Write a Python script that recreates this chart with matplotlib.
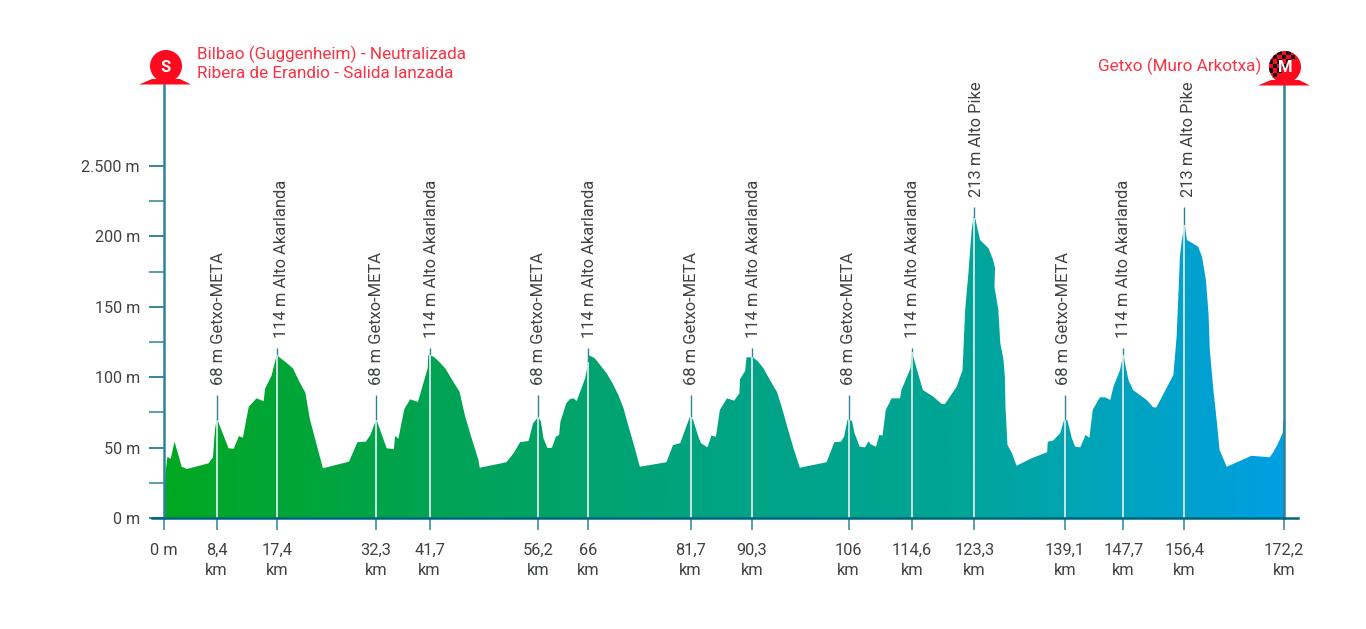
import numpy as np
import matplotlib
matplotlib.use('Agg')
import matplotlib.pyplot as plt
from matplotlib.colors import LinearSegmentedColormap
from matplotlib.patches import Circle, Polygon, Rectangle
from matplotlib.transforms import Affine2D

plt.rcParams['font.family'] = ['Roboto', 'DejaVu Sans']

# Profile outline, km and metres (same line breaks in both lists)
profile_km = [0, 0.2, 0.3, 0.6, 1.1, 1.7, 2.8, 3.6, 6.9, 7.6, 7.9, 8.2, 10.0, 10.8, 11.6, 12.2, 13.1, 14.3, 15.4,
              15.6, 16.6, 17.4, 18.7, 19.9, 21.0, 21.8, 22.5, 24.5, 28.5,
              29.8, 31.1, 31.8, 32.7, 34.3, 35.4, 35.6, 36.1, 37.0, 37.9, 39.1,
              40.6, 40.7, 41.5, 42.2, 43.3, 44.3, 45.5, 46.3, 47.2, 48.4, 48.6, 52.7,
              53.8, 54.8, 56.1, 56.8, 57.6, 58.0, 58.4, 59.0, 59.7, 60.3, 60.8, 61.0, 61.9, 62.5, 63.0, 63.5,
              64.8, 65.1, 65.3, 66.3, 67.3, 68.1, 69.0, 69.9, 70.7, 71.4, 72.3, 73.2, 77.3,
              78.3, 79.4, 80.9, 81.4, 82.2, 82.6, 83.6, 84.2, 84.9, 85.5, 86.6, 87.7, 88.5, 88.6, 89.4,
              89.6, 90.6, 91.4, 92.2, 93.2, 94.3, 95.0, 96.0, 96.9, 97.8, 101.9,
              103.1, 104.1, 104.6, 105.1, 105.8, 106.2, 107.0, 107.8, 108.4, 108.6, 109.5, 110.0, 110.5, 111.0,
              111.9, 113.2, 113.4, 114.8, 115.0, 116.7, 118.3, 119.6, 120.1, 121.9, 122.8,
              123.2, 123.7, 124.2, 124.5, 124.8, 125.5, 126.8, 127.5, 127.8, 127.7, 128.3, 128.6, 129.1, 129.3, 129.4,
              129.7, 130.4, 131.1, 133.4, 135.8, 135.9, 136.7, 137.8, 138.4, 138.9, 139.6, 140.1, 140.9, 141.7, 142.3,
              142.8, 143.9, 144.7, 145.5, 146.0, 147.0, 147.5, 148.3, 149.0, 151.1, 152.1, 152.6,
              155.2, 155.7, 156.0, 156.2, 156.5, 156.9, 157.3, 159.0, 159.6, 160.2, 160.6, 160.8, 161.3, 161.9, 162.3,
              163.4, 167.2, 170.0, 170.6, 171.3, 172.0, 172.1, 172.2]
profile_m = [0, 17.5, 31.7, 43.5, 41.9, 54.2, 36.4, 34.8, 38.8, 43.1, 62.5, 70.8, 49.5, 49.2, 58.2, 57.0, 79.0, 85.0, 82.9,
             91.6, 101.1, 115.6, 111.0, 106.3, 95.7, 89.0, 70.1, 35.3, 40.0,
             53.8, 54.2, 59.0, 70.1, 49.5, 48.8, 58.2, 56.3, 77.2, 84.3, 82.4,
             106.3, 115.8, 114.6, 111.7, 106.3, 98.5, 89.7, 73.2, 59.0, 41.2, 35.7, 39.6,
             46.0, 53.8, 54.7, 67.3, 71.9, 68.4, 56.6, 49.7, 49.9, 57.7, 59.0, 68.4, 81.5, 84.5, 85.0, 83.1,
             99.2, 106.3, 115.8, 113.4, 107.5, 102.8, 95.7, 87.4, 77.9, 66.1, 51.8, 36.4, 39.6,
             51.8, 53.1, 71.9, 69.6, 57.7, 53.1, 50.2, 58.5, 57.7, 76.7, 85.0, 83.3, 88.6, 98.5, 104.6,
             114.1, 114.1, 111.0, 106.3, 98.0, 89.3, 79.0, 62.5, 48.3, 35.7, 39.6,
             53.8, 54.2, 57.7, 69.6, 69.1, 60.2, 50.6, 50.2, 54.7, 52.6, 50.6, 59.0, 58.5, 76.7,
             85.0, 85.0, 90.9, 106.3, 118.1, 90.9, 86.2, 81.0, 81.0, 93.3, 105.1,
             147.7, 173.8, 204.5, 214.0, 211.6, 197.4, 191.5, 183.2, 177.3, 164.3, 147.7, 124.1, 112.2, 100.4, 79.0,
             51.8, 46.0, 37.1, 42.4, 46.7, 54.2, 54.9, 60.2, 69.6, 69.6, 56.6, 50.6, 50.2, 59.0, 57.0,
             76.7, 85.7, 85.7, 83.8, 93.3, 105.1, 115.8, 98.0, 90.9, 83.8, 78.6, 78.6,
             101.6, 128.8, 161.9, 185.6, 197.4, 208.1, 197.4, 192.7, 185.6, 169.0, 145.4, 119.3, 93.3, 67.3, 48.3,
             36.4, 44.2, 43.1, 47.1, 53.1, 60.5, 69.6, 69.6]

# Climbs and passes along the route
marker_km = [8.15, 17.4, 32.66, 40.9, 57.55, 65.2, 81.0, 90.4, 105.3, 115.0, 124.6, 138.5, 147.5, 156.9]
marker_top = [87.4, 121, 87.4, 121, 87.4, 121, 87.4, 121, 87.4, 121, 221, 87.4, 121, 221]
marker_text_km = [8.4, 18.1, 32.7, 41.2, 57.6, 65.4, 81.1, 90.6, 105.2, 115.1, 124.9, 138.3, 147.5, 157.5]
marker_text = ['68 m Getxo-META', '114 m Alto Akarlanda', '68 m Getxo-META', '114 m Alto Akarlanda',
               '68 m Getxo-META', '114 m Alto Akarlanda', '68 m Getxo-META', '114 m Alto Akarlanda',
               '68 m Getxo-META', '114 m Alto Akarlanda', '213 m Alto Pike', '68 m Getxo-META',
               '114 m Alto Akarlanda', '213 m Alto Pike']

# Axis ticks
x_ticks = [0] + marker_km + [172.2]
x_labels = ['0 m', '8,4\nkm', '17,4\nkm', '32,3\nkm', '41,7\nkm', '56,2\nkm', '66\nkm', '81,7\nkm', '90,3\nkm',
            '106\nkm', '114,6\nkm', '123,3\nkm', '139,1\nkm', '147,7\nkm', '156,4\nkm', '172,2\nkm']
y_ticks = [0, 50, 100, 150, 200, 250]
y_minor = [25, 75, 125, 175, 225]
y_labels = ['0 m', '50 m', '100 m', '150 m', '200 m', '2.500 m']

start_text = ['Bilbao (Guggenheim) - Neutralizada', 'Ribera de Erandio - Salida lanzada']
finish_text = 'Getxo (Muro Arkotxa)'

W, H = 1366, 629
RED = '#fe0a1e'
RED_TEXT = '#fb3344'
TEAL = '#2f8399'
DARK_TEAL = '#00667f'
GREY = '#3f4244'

fig = plt.figure(figsize=(W / 100, H / 100), dpi=100)
ax = fig.add_axes([163.5 / W, (H - 518) / H, 1120.5 / W, 433 / H])
ax.patch.set_alpha(0)

# Gradient fill clipped by the profile
cmap = LinearSegmentedColormap.from_list('route', [(0, '#00a820'), (0.25, '#00a354'), (0.5, '#00a384'),
                                                   (0.7, '#00a594'), (0.8, '#00a5b0'), (1, '#009fe3')])
grad = ax.imshow(np.linspace(0, 1, 512).reshape(1, -1), extent=(0, 172.2, 0, 307.5), aspect='auto',
                 cmap=cmap, zorder=1)
outline = ax.fill(profile_km + [172.2], profile_m + [0], facecolor='none', edgecolor='none')[0]
grad.set_clip_path(outline)
ax.set_xlim(0, 172.2)
ax.set_ylim(0, 307.5)

# Marker lines and labels
for km, top, tkm, label in zip(marker_km, marker_top, marker_text_km, marker_text):
    ax.plot([km, km], [0, top], color=TEAL, lw=1.0, zorder=2, solid_capstyle='butt')
    ax.plot([km, km], [0, np.interp(km, profile_km, profile_m)], color='#e4f3f0', lw=1.2, zorder=3,
            solid_capstyle='butt')
    ax.text(tkm, top + 7, label, rotation=90, ha='center', va='bottom', fontsize=11.9, color=GREY)

# Axes and ticks
ax.spines['top'].set_visible(False)
for side in ['left', 'right']:
    ax.spines[side].set_color(TEAL)
    ax.spines[side].set_linewidth(1.8)
ax.spines['bottom'].set_visible(False)
ax.plot([-1.77, 174.35], [0, 0], color=DARK_TEAL, lw=1.8, clip_on=False, zorder=4)

ax.set_yticks(y_ticks)
ax.set_yticklabels(y_labels)
ax.set_yticks(y_minor, minor=True)
ax.tick_params(axis='y', which='major', length=11, width=1.1, color=DARK_TEAL, pad=6, labelsize=11.6,
               labelcolor=GREY)
ax.tick_params(axis='y', which='minor', length=11, width=1.1, color=TEAL)
ax.set_xticks(x_ticks)
ax.set_xticklabels(x_labels, linespacing=1.42)
ax.tick_params(axis='x', length=8.6, width=1.1, color=TEAL, pad=9.5, labelsize=11.8, labelcolor=GREY)

# Pixel transform for the start and finish signs
px = Affine2D().scale(1 / W, -1 / H).translate(0, 1) + fig.transFigure


def add_sign(cx, cy):
    disc = Circle((cx, cy), 16, facecolor=RED, edgecolor='none', transform=px, zorder=5)
    fig.add_artist(disc)
    base = Polygon([(cx - 27, cy + 18.5), (cx - 14, cy + 13), (cx + 14, cy + 13), (cx + 25, cy + 18.5)],
                   facecolor=RED, edgecolor='none', transform=px, zorder=5)
    fig.add_artist(base)
    return disc


add_sign(166, 66)
fig.text(165.5 / W, 1 - 67 / H, 'S', color='white', fontsize=12, fontweight='bold', ha='center', va='center',
         zorder=7)

finish_disc = add_sign(1285, 67)
for i in range(6):
    for j in range(7):
        if (i + j) % 2 == 0 and i + j < 8:
            sq = Rectangle((1268 + i * 4.5, 50 + j * 4.5), 4.5, 4.5, facecolor='#111111', edgecolor='none',
                           transform=px, zorder=6)
            fig.add_artist(sq)
            sq.set_clip_path(finish_disc)
fig.text(1285 / W, 1 - 68 / H, 'M', color='white', fontsize=12, fontweight='bold', ha='center', va='center',
         zorder=7)

# Start and finish names
fig.text(197 / W, 1 - 54 / H, start_text[0], color=RED_TEXT, fontsize=12.3, ha='left', va='center')
fig.text(197 / W, 1 - 73 / H, start_text[1], color=RED_TEXT, fontsize=12.3, ha='left', va='center')
fig.text(1261 / W, 1 - 66 / H, finish_text, color=RED_TEXT, fontsize=12.3, ha='right', va='center')

fig.savefig('out.png', dpi=100, facecolor='white')
